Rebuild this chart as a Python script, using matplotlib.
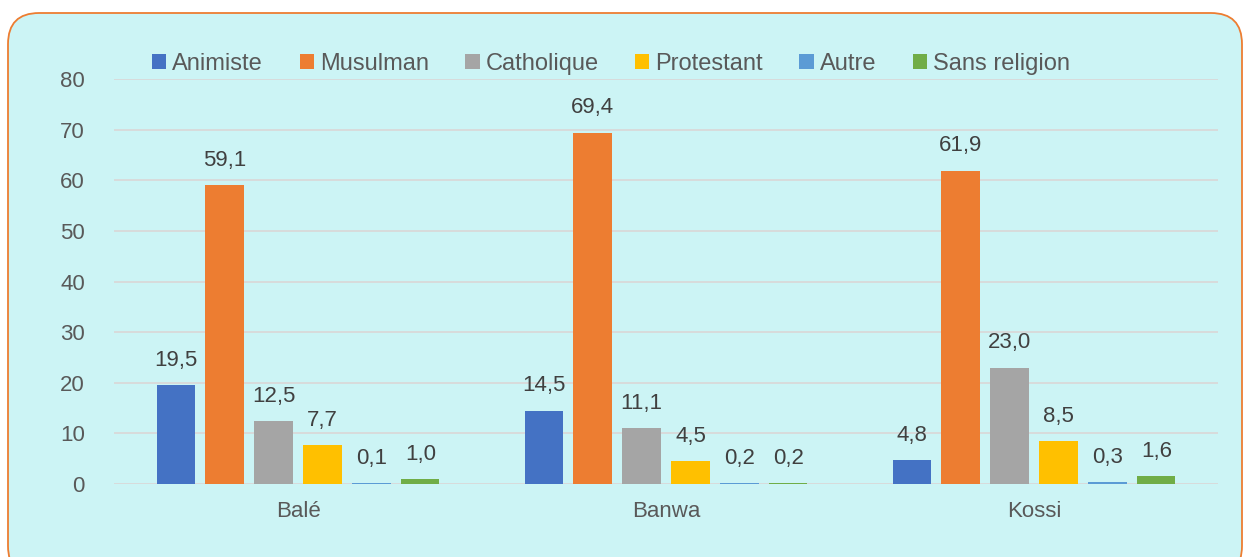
import matplotlib.pyplot as plt
import numpy as np
from matplotlib.patches import FancyBboxPatch

plt.rcParams['font.family'] = ['Liberation Sans', 'DejaVu Sans']

regions = ['Balé', 'Banwa', 'Kossi']
series = ['Animiste', 'Musulman', 'Catholique', 'Protestant', 'Autre', 'Sans religion']
animiste = [19.5, 14.5, 4.8]
musulman = [59.1, 69.4, 61.9]
catholique = [12.5, 11.1, 23.0]
protestant = [7.7, 4.5, 8.5]
autre = [0.1, 0.2, 0.3]
sans_religion = [1.0, 0.2, 1.6]
values = [animiste, musulman, catholique, protestant, autre, sans_religion]
colors = ['#4472C4', '#ED7D31', '#A5A5A5', '#FFC000', '#5B9BD5', '#70AD47']

fig = plt.figure(figsize=(12.44, 5.57), dpi=100)
fig.patch.set_facecolor('white')

# rounded background panel
W, H = 1244, 557
panel = FancyBboxPatch((8 / W, -20 / H), 1234 / W, (H - 13 + 20) / H,
                       boxstyle='round,pad=0,rounding_size=0.025',
                       transform=fig.transFigure, facecolor='#CCF4F5',
                       edgecolor='#ED7D31', linewidth=1.3, mutation_aspect=W / H,
                       zorder=-5)
fig.patches.append(panel)

ax = fig.add_axes([114 / W, 1 - 484 / H, 1104 / W, (484 - 79) / H])
ax.set_facecolor('none')
ax.set_zorder(2)

x = np.arange(len(regions))
pitch = 0.133
width = 0.104
for i, (name, vals, c) in enumerate(zip(series, values, colors)):
    pos = x + (i - 2.5) * pitch
    ax.bar(pos, vals, width, color=c, label=name, zorder=3)
    for xb, v in zip(pos, vals):
        ax.text(xb, v + 2.8, f'{v:.1f}'.replace('.', ','), ha='center', va='bottom',
                fontsize=16, color='#404040', zorder=4)

ax.set_xlim(-0.5, 2.5)
ax.set_ylim(0, 80)
ax.set_yticks(range(0, 81, 10))
ax.set_xticks(x)
ax.set_xticklabels(regions)
ax.grid(axis='y', color='#D9D9D9', linewidth=1.3, zorder=0)
ax.tick_params(axis='both', length=0, labelsize=16, colors='#595959')
ax.tick_params(axis='x', pad=12)
ax.tick_params(axis='y', pad=21)
for s in ax.spines.values():
    s.set_visible(False)

leg = fig.legend(loc='center', bbox_to_anchor=(611 / W, 1 - 64 / H), ncol=6,
                 frameon=False, fontsize=17, handlelength=0.6, handleheight=0.6,
                 handletextpad=0.25, columnspacing=1.55, labelcolor='#595959')

fig.savefig('out.png', dpi=100)
